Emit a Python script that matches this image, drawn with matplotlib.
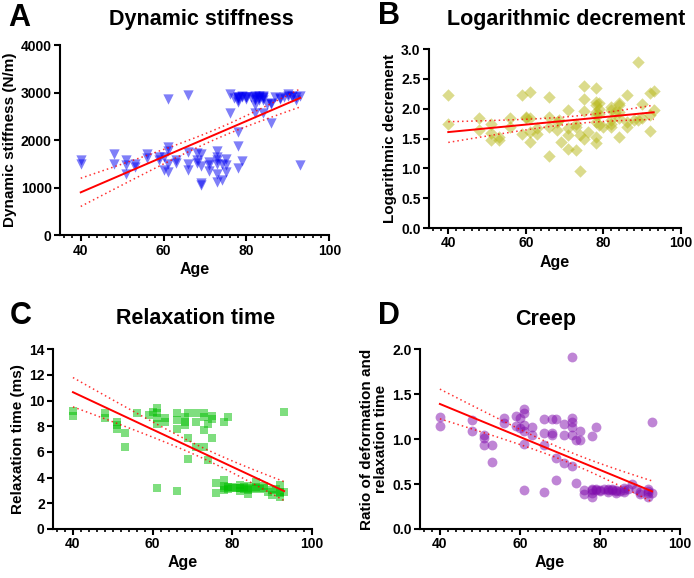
import numpy as np
import matplotlib
matplotlib.use("Agg")
import matplotlib.pyplot as plt
from matplotlib.ticker import MultipleLocator

plt.rcParams['font.family'] = ['Liberation Sans', 'DejaVu Sans']
plt.rcParams['font.weight'] = 'bold'
plt.rcParams['axes.labelweight'] = 'bold'

# ---- A: dynamic stiffness (N/m) ----
# (the dark clusters hide overlapping subjects, so a few repeats sit there)
age_a = [40, 40, 48, 48, 51, 51, 51, 53, 53, 56, 56, 59, 59, 60, 60, 61, 61, 61, 61, 61,
         63, 63, 66, 66, 66, 66, 68, 68, 68, 69, 69, 69, 69, 71, 71, 71, 73, 73, 73, 73,
         73, 73, 74, 74, 75, 75, 75, 76, 76, 78, 78, 78, 78, 78, 79, 79, 80, 82, 82, 82,
         82, 83, 83, 84, 84, 84, 86, 86, 88, 89, 90, 92, 92, 93, 93, 77, 78, 80, 81, 83,
         85, 87, 91, 78, 78, 79, 80, 82, 82, 83, 84, 84, 86, 88, 90, 91]
stiff_a = [1579, 1509, 1705, 1509, 1579, 1474, 1298, 1509, 1439, 1719, 1635, 1649, 1579,
           1368, 1649, 2856, 1860, 1776, 1509, 1333, 1579, 1530, 2948, 1755, 1509, 1368,
           1740, 1579, 1523, 1719, 1460, 1109, 1053, 1544, 1474, 1354, 1776, 1649, 1593,
           1495, 1298, 1123, 1509, 1172, 1614, 1474, 1333, 2969, 2562, 2912, 2842, 2176,
           1881, 1425, 2912, 1558, 2912, 2933, 2842, 2737, 2562, 2926, 2842, 2912, 2842,
           2562, 2772, 2351, 2863, 2912, 2962, 2912, 2842, 2926, 1474, 2880, 2800, 2870,
           2900, 2880, 2760, 2900, 2930, 2900, 2880, 2920, 2900, 2910, 2870, 2900, 2920,
           2890, 2760, 2880, 2930, 2900]

# ---- B: logarithmic decrement ----
age_b = [40, 40, 48, 48, 51, 51, 51, 53, 53, 56, 56, 59, 59, 60, 60, 61, 61, 61, 61, 63,
         63, 66, 66, 66, 66, 68, 68, 68.5, 69, 71, 71, 71, 71, 73, 73, 73, 74, 74, 75, 75,
         75, 75, 76, 78, 78, 78, 78, 78, 78, 78, 79, 79, 79, 80, 82, 82, 82, 82, 83, 84,
         84, 84, 84, 86, 86, 86, 88, 89, 90, 90, 92, 92, 92, 93, 93, 89, 78, 84, 79, 82]
logdec_b = [2.23, 1.74, 1.84, 1.64, 1.74, 1.60, 1.47, 1.52, 1.47, 1.85, 1.69, 2.23, 1.58,
            1.87, 1.84, 2.28, 1.84, 1.61, 1.45, 1.67, 1.58, 2.20, 1.87, 1.70, 1.20, 1.78,
            1.64, 1.81, 1.45, 1.98, 1.67, 1.56, 1.32, 1.75, 1.70, 1.31, 0.96, 1.56, 2.38,
            2.16, 1.96, 1.49, 1.61, 2.35, 2.12, 2.06, 1.95, 1.78, 1.53, 1.42, 2.09, 1.92,
            1.73, 1.70, 2.03, 1.98, 1.70, 1.81, 1.95, 2.09, 1.95, 1.84, 1.52, 2.23, 1.78,
            1.70, 1.81, 2.78, 2.08, 1.84, 2.26, 1.89, 1.63, 2.30, 1.98, 1.81, 1.89, 2.07,
            2.00, 1.75]

# ---- C: relaxation time (ms) ----
age_c = [40, 40, 48, 48, 51, 51, 51, 53, 53, 56, 59, 60, 61, 61, 61, 61, 61, 63, 63, 66,
         66, 66, 66, 68, 68, 68, 69, 69, 69, 71, 71, 71, 73, 73, 73, 73, 74, 74, 75, 75,
         75, 76, 76, 78, 78, 78, 78, 79, 79, 80, 82, 82, 82, 84, 84, 84, 86, 86, 88, 88,
         89, 90, 92, 92, 92, 93, 93, 80, 81, 83, 85, 78, 79, 82, 83, 84, 86, 87, 90, 91,
         92]
relax_c = [9.2, 8.8, 9.0, 8.6, 8.35, 8.1, 7.8, 7.5, 6.35, 9.0, 8.9, 9.1, 9.4, 9.0, 8.6,
           8.2, 3.16, 8.6, 8.3, 9.0, 8.5, 7.8, 2.98, 8.75, 8.35, 8.1, 9.0, 7.1, 5.45, 9.0,
           8.35, 6.4, 9.0, 8.7, 7.7, 6.4, 8.2, 5.37, 8.8, 8.55, 7.05, 3.55, 2.77, 8.35,
           3.81, 3.34, 3.03, 8.74, 3.24, 3.16, 3.42, 3.16, 2.98, 3.34, 3.03, 2.72, 3.68,
           3.16, 3.34, 3.16, 2.9, 2.64, 3.42, 2.9, 2.46, 9.1, 2.9, 3.3, 3.2, 3.3, 3.1,
           3.2, 3.1, 3.2, 3.1, 3.2, 3.3, 3.1, 3.0, 3.1, 2.8]

# ---- D: creep (ratio of deformation and relaxation time) ----
age_d = [40, 40, 48, 48, 51, 51, 51, 53, 53, 56, 56, 59, 59, 60, 60, 61, 61, 61, 61, 61,
         61, 63, 63, 66, 66, 66, 66, 68, 68, 68, 69, 69, 69, 71, 71, 71, 73, 73, 73, 73,
         73, 73, 74, 74, 75, 75, 76, 76, 78, 78, 78, 78, 79, 79, 80, 82, 82, 84, 84, 86,
         86, 88, 89, 90, 92, 92, 92, 93, 93, 81, 83, 85, 78, 79, 80, 82, 83, 84, 86, 87,
         90, 92]
creep_d = [1.24, 1.14, 1.21, 1.09, 1.04, 1.01, 0.93, 0.93, 0.75, 1.23, 1.18, 1.26, 1.14,
           1.23, 1.12, 1.33, 1.29, 1.16, 1.09, 0.95, 0.43, 1.13, 1.05, 1.22, 1.07, 0.93,
           0.41, 1.22, 1.07, 1.04, 1.22, 0.79, 0.55, 1.17, 1.05, 0.73, 1.91, 1.23, 1.19,
           1.13, 1.04, 0.70, 0.99, 0.51, 1.09, 0.99, 0.43, 0.39, 1.03, 0.44, 0.40, 0.36,
           1.13, 0.43, 0.43, 0.44, 0.41, 0.43, 0.40, 0.46, 0.41, 0.50, 0.44, 0.39, 0.45,
           0.40, 0.36, 1.19, 0.40, 0.44, 0.43, 0.42, 0.43, 0.44, 0.42, 0.43, 0.44, 0.42,
           0.43, 0.44, 0.41, 0.42]


def fit_with_ci(ax, x, y):
    # linear regression with 95% confidence band of the mean
    x = np.asarray(x, float)
    y = np.asarray(y, float)
    n = len(x)
    slope, icpt = np.polyfit(x, y, 1)
    xs = np.linspace(x.min(), x.max(), 100)
    ys = slope * xs + icpt
    resid = y - (slope * x + icpt)
    s = np.sqrt(np.sum(resid ** 2) / (n - 2))
    sxx = np.sum((x - x.mean()) ** 2)
    half = 1.984 * s * np.sqrt(1.0 / n + (xs - x.mean()) ** 2 / sxx)
    ax.plot(xs, ys, color='red', lw=1.4, zorder=4)
    ax.plot(xs, ys + half, color='red', lw=1.1, ls=(0, (1, 2)), alpha=0.8, zorder=4)
    ax.plot(xs, ys - half, color='red', lw=1.1, ls=(0, (1, 2)), alpha=0.8, zorder=4)


def style_axes(ax, ymax, ystep, fmt=None):
    for side in ['top', 'right']:
        ax.spines[side].set_visible(False)
    for side in ['left', 'bottom']:
        ax.spines[side].set_linewidth(1.5)
    ax.set_xlim(35, 100)
    ax.set_ylim(0, ymax)
    ax.xaxis.set_major_locator(MultipleLocator(20))
    ax.xaxis.set_minor_locator(MultipleLocator(2))
    ax.yaxis.set_major_locator(MultipleLocator(ystep))
    ax.tick_params(axis='both', which='major', length=4, width=1.5, labelsize=10, pad=2)
    ax.tick_params(axis='x', which='minor', length=2.5, width=1.2)
    if fmt:
        ax.yaxis.set_major_formatter(plt.FormatStrFormatter(fmt))
    for lab in ax.get_xticklabels() + ax.get_yticklabels():
        lab.set_fontweight('bold')
    ax.set_xlabel('Age', fontsize=11.5, labelpad=3)


fig = plt.figure(figsize=(6.94, 5.78), dpi=100)

axA = fig.add_axes([0.0865, 0.593, 0.388, 0.329])
axA.scatter(age_a, stiff_a, marker='v', s=55, color=(0.0, 0.0, 0.95), alpha=0.5,
            linewidths=0, zorder=3)
fit_with_ci(axA, age_a, stiff_a)
style_axes(axA, 4000, 1000)
axA.set_ylabel('Dynamic stiffness (N/m)', fontsize=11, labelpad=3)

axB = fig.add_axes([0.618, 0.6055, 0.363, 0.3095])
axB.scatter(age_b, logdec_b, marker='D', s=40, color=(0.72, 0.72, 0.1), alpha=0.5,
            linewidths=0, zorder=3)
fit_with_ci(axB, age_b, logdec_b)
style_axes(axB, 3.0, 0.5, '%.1f')
axB.set_ylabel('Logarithmic decrement', fontsize=11, labelpad=3)

axC = fig.add_axes([0.0764, 0.0848, 0.3732, 0.3112])
axC.scatter(age_c, relax_c, marker='s', s=40, color=(0.0, 0.75, 0.0), alpha=0.5,
            linewidths=0, zorder=3)
fit_with_ci(axC, age_c, relax_c)
style_axes(axC, 14, 2)
axC.set_ylabel('Relaxation time (ms)', fontsize=11, labelpad=3)

axD = fig.add_axes([0.605, 0.0848, 0.375, 0.3112])
axD.scatter(age_d, creep_d, marker='o', s=50, color=(0.5, 0.05, 0.68), alpha=0.5,
            linewidths=0, zorder=3)
fit_with_ci(axD, age_d, creep_d)
style_axes(axD, 2.0, 0.5, '%.1f')
axD.set_ylabel('Ratio of deformation and\nrelaxation time', fontsize=11, labelpad=3,
               linespacing=1.0)

# titles and panel letters
fig.text(201 / 694, 1 - 20 / 578, 'Dynamic stiffness', ha='center', va='center',
         fontsize=15.5, fontweight='bold')
fig.text(566 / 694, 1 - 19 / 578, 'Logarithmic decrement', ha='center', va='center',
         fontsize=15.5, fontweight='bold')
fig.text(196 / 694, 1 - 319 / 578, 'Relaxation time', ha='center', va='center',
         fontsize=15.5, fontweight='bold')
fig.text(546 / 694, 1 - 319 / 578, 'Creep', ha='center', va='center',
         fontsize=15.5, fontweight='bold')
for lx, ly, letter in [(8, 18, 'A'), (378, 16, 'B'), (10, 316, 'C'), (378, 316, 'D')]:
    fig.text(lx / 694, 1 - ly / 578, letter, ha='left', va='center',
             fontsize=22, fontweight='bold')

fig.savefig('out.png', dpi=100)
